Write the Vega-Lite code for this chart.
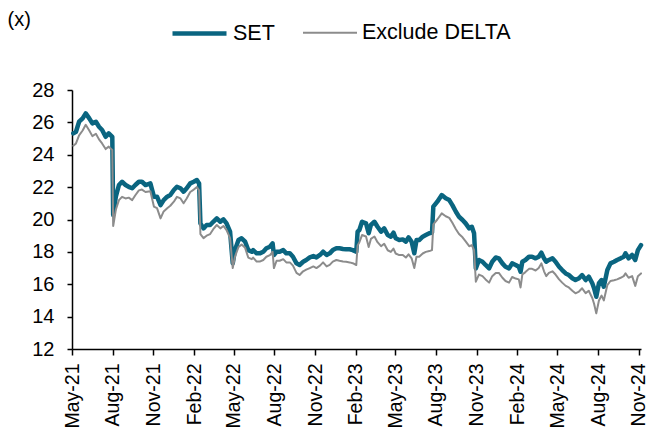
{
  "$schema": "https://vega.github.io/schema/vega-lite/v6.json",
  "width": 569,
  "height": 259,
  "autosize": "none",
  "padding": {"left": 72, "top": 90, "right": 8, "bottom": 86},
  "background": "white",
  "config": {
    "view": {"stroke": null},
    "font": "Liberation Sans",
    "axis": {"grid": false, "domainColor": "black", "domainWidth": 1.5, "tickColor": "black", "tickWidth": 1.5, "labelColor": "black", "labelFont": "Liberation Sans", "labelFontSize": 20, "titleFont": "Liberation Sans", "titleColor": "black"},
    "legend": {"labelFont": "Liberation Sans", "labelFontSize": 21.5, "labelColor": "black"}
  },
  "data": {"values": [
    {"d":"2021-05-04","SET":25.32,"Exclude DELTA":24.55},
    {"d":"2021-05-10","SET":25.42,"Exclude DELTA":24.7},
    {"d":"2021-05-17","SET":26.04,"Exclude DELTA":25.2},
    {"d":"2021-05-25","SET":26.25,"Exclude DELTA":25.5},
    {"d":"2021-06-01","SET":26.56,"Exclude DELTA":25.85},
    {"d":"2021-06-09","SET":26.25,"Exclude DELTA":25.5},
    {"d":"2021-06-16","SET":25.94,"Exclude DELTA":25.15},
    {"d":"2021-06-24","SET":26.04,"Exclude DELTA":25.3},
    {"d":"2021-07-01","SET":25.73,"Exclude DELTA":24.95},
    {"d":"2021-07-08","SET":25.53,"Exclude DELTA":24.7},
    {"d":"2021-07-16","SET":25.11,"Exclude DELTA":24.35},
    {"d":"2021-07-23","SET":25.32,"Exclude DELTA":24.5},
    {"d":"2021-07-31","SET":25.11,"Exclude DELTA":24.3},
    {"d":"2021-08-02","SET":20.28,"Exclude DELTA":19.6},
    {"d":"2021-08-08","SET":21.41,"Exclude DELTA":20.6},
    {"d":"2021-08-15","SET":22.13,"Exclude DELTA":21.2},
    {"d":"2021-08-22","SET":22.33,"Exclude DELTA":21.4},
    {"d":"2021-08-30","SET":22.13,"Exclude DELTA":21.3},
    {"d":"2021-09-06","SET":22.02,"Exclude DELTA":21.35},
    {"d":"2021-09-14","SET":21.93,"Exclude DELTA":21.2},
    {"d":"2021-09-21","SET":22.13,"Exclude DELTA":21.5},
    {"d":"2021-09-29","SET":22.33,"Exclude DELTA":21.8},
    {"d":"2021-10-06","SET":22.33,"Exclude DELTA":21.85},
    {"d":"2021-10-14","SET":22.13,"Exclude DELTA":21.7},
    {"d":"2021-10-25","SET":22.23,"Exclude DELTA":21.75},
    {"d":"2021-11-02","SET":21.41,"Exclude DELTA":20.8},
    {"d":"2021-11-09","SET":21.41,"Exclude DELTA":20.7},
    {"d":"2021-11-17","SET":20.89,"Exclude DELTA":20.07},
    {"d":"2021-11-24","SET":21.2,"Exclude DELTA":20.5},
    {"d":"2021-12-02","SET":21.41,"Exclude DELTA":20.7},
    {"d":"2021-12-09","SET":21.51,"Exclude DELTA":20.85},
    {"d":"2021-12-17","SET":21.82,"Exclude DELTA":21.1},
    {"d":"2021-12-24","SET":22.02,"Exclude DELTA":21.4},
    {"d":"2022-01-01","SET":21.93,"Exclude DELTA":21.3},
    {"d":"2022-01-08","SET":21.72,"Exclude DELTA":21.0},
    {"d":"2022-01-15","SET":21.93,"Exclude DELTA":21.3},
    {"d":"2022-01-23","SET":22.23,"Exclude DELTA":21.7},
    {"d":"2022-01-31","SET":22.33,"Exclude DELTA":21.85},
    {"d":"2022-02-07","SET":22.44,"Exclude DELTA":22.0},
    {"d":"2022-02-12","SET":22.23,"Exclude DELTA":21.8},
    {"d":"2022-02-15","SET":19.76,"Exclude DELTA":19.1},
    {"d":"2022-02-22","SET":19.45,"Exclude DELTA":18.85},
    {"d":"2022-03-01","SET":19.66,"Exclude DELTA":19.0},
    {"d":"2022-03-09","SET":19.66,"Exclude DELTA":19.1},
    {"d":"2022-03-16","SET":19.86,"Exclude DELTA":19.4},
    {"d":"2022-03-24","SET":20.07,"Exclude DELTA":19.66},
    {"d":"2022-04-01","SET":19.86,"Exclude DELTA":19.45},
    {"d":"2022-04-08","SET":20.01,"Exclude DELTA":19.6},
    {"d":"2022-04-15","SET":19.76,"Exclude DELTA":19.35},
    {"d":"2022-04-23","SET":19.25,"Exclude DELTA":18.85},
    {"d":"2022-04-29","SET":17.29,"Exclude DELTA":17.0},
    {"d":"2022-05-04","SET":18.11,"Exclude DELTA":17.7},
    {"d":"2022-05-12","SET":18.73,"Exclude DELTA":18.3},
    {"d":"2022-05-19","SET":18.84,"Exclude DELTA":18.45},
    {"d":"2022-05-27","SET":18.63,"Exclude DELTA":18.25},
    {"d":"2022-06-03","SET":18.11,"Exclude DELTA":17.65},
    {"d":"2022-06-11","SET":18.01,"Exclude DELTA":17.55},
    {"d":"2022-06-14","SET":18.11,"Exclude DELTA":17.65},
    {"d":"2022-06-22","SET":17.91,"Exclude DELTA":17.4},
    {"d":"2022-06-29","SET":17.91,"Exclude DELTA":17.4},
    {"d":"2022-07-07","SET":18.01,"Exclude DELTA":17.5},
    {"d":"2022-07-14","SET":18.22,"Exclude DELTA":17.7},
    {"d":"2022-07-22","SET":18.32,"Exclude DELTA":17.8},
    {"d":"2022-07-28","SET":18.53,"Exclude DELTA":18.0},
    {"d":"2022-07-31","SET":17.81,"Exclude DELTA":17.0},
    {"d":"2022-08-06","SET":18.01,"Exclude DELTA":17.45},
    {"d":"2022-08-13","SET":18.01,"Exclude DELTA":17.45},
    {"d":"2022-08-21","SET":18.11,"Exclude DELTA":17.55},
    {"d":"2022-08-28","SET":17.91,"Exclude DELTA":17.35},
    {"d":"2022-09-05","SET":17.91,"Exclude DELTA":17.35},
    {"d":"2022-09-12","SET":17.7,"Exclude DELTA":17.15},
    {"d":"2022-09-20","SET":17.29,"Exclude DELTA":16.7},
    {"d":"2022-09-27","SET":17.19,"Exclude DELTA":16.57},
    {"d":"2022-10-05","SET":17.39,"Exclude DELTA":16.8},
    {"d":"2022-10-12","SET":17.5,"Exclude DELTA":16.9},
    {"d":"2022-10-20","SET":17.66,"Exclude DELTA":17.0},
    {"d":"2022-10-28","SET":17.74,"Exclude DELTA":17.1},
    {"d":"2022-11-04","SET":17.66,"Exclude DELTA":17.0},
    {"d":"2022-11-12","SET":17.81,"Exclude DELTA":17.15},
    {"d":"2022-11-19","SET":18.01,"Exclude DELTA":17.35},
    {"d":"2022-11-27","SET":17.81,"Exclude DELTA":17.1},
    {"d":"2022-12-04","SET":17.91,"Exclude DELTA":17.2},
    {"d":"2022-12-11","SET":18.11,"Exclude DELTA":17.4},
    {"d":"2022-12-19","SET":18.22,"Exclude DELTA":17.5},
    {"d":"2022-12-26","SET":18.22,"Exclude DELTA":17.45},
    {"d":"2023-01-03","SET":18.18,"Exclude DELTA":17.4},
    {"d":"2023-01-10","SET":18.16,"Exclude DELTA":17.39},
    {"d":"2023-01-18","SET":18.16,"Exclude DELTA":17.35},
    {"d":"2023-01-25","SET":18.11,"Exclude DELTA":17.3},
    {"d":"2023-02-02","SET":18.01,"Exclude DELTA":17.19},
    {"d":"2023-02-05","SET":19.25,"Exclude DELTA":18.4},
    {"d":"2023-02-09","SET":19.35,"Exclude DELTA":18.6},
    {"d":"2023-02-15","SET":19.86,"Exclude DELTA":19.04},
    {"d":"2023-02-24","SET":19.76,"Exclude DELTA":18.95},
    {"d":"2023-03-02","SET":19.15,"Exclude DELTA":18.3},
    {"d":"2023-03-07","SET":19.66,"Exclude DELTA":18.8},
    {"d":"2023-03-15","SET":19.86,"Exclude DELTA":18.95},
    {"d":"2023-03-22","SET":19.55,"Exclude DELTA":18.6},
    {"d":"2023-03-30","SET":19.25,"Exclude DELTA":18.35},
    {"d":"2023-04-06","SET":19.45,"Exclude DELTA":18.5},
    {"d":"2023-04-14","SET":19.04,"Exclude DELTA":18.1},
    {"d":"2023-04-21","SET":18.94,"Exclude DELTA":18.0},
    {"d":"2023-04-27","SET":19.19,"Exclude DELTA":18.2},
    {"d":"2023-05-02","SET":18.84,"Exclude DELTA":17.9},
    {"d":"2023-05-10","SET":18.73,"Exclude DELTA":17.8},
    {"d":"2023-05-18","SET":18.77,"Exclude DELTA":17.81},
    {"d":"2023-05-25","SET":18.63,"Exclude DELTA":17.65},
    {"d":"2023-05-31","SET":18.9,"Exclude DELTA":17.85},
    {"d":"2023-06-07","SET":18.63,"Exclude DELTA":17.6},
    {"d":"2023-06-13","SET":17.91,"Exclude DELTA":17.0},
    {"d":"2023-06-18","SET":18.73,"Exclude DELTA":17.7},
    {"d":"2023-06-24","SET":18.73,"Exclude DELTA":17.7},
    {"d":"2023-07-02","SET":18.94,"Exclude DELTA":17.9},
    {"d":"2023-07-09","SET":19.04,"Exclude DELTA":18.0},
    {"d":"2023-07-17","SET":19.15,"Exclude DELTA":18.05},
    {"d":"2023-07-23","SET":19.19,"Exclude DELTA":18.11},
    {"d":"2023-07-26","SET":20.79,"Exclude DELTA":19.7},
    {"d":"2023-08-04","SET":21.1,"Exclude DELTA":20.0},
    {"d":"2023-08-14","SET":21.51,"Exclude DELTA":20.38},
    {"d":"2023-08-23","SET":21.31,"Exclude DELTA":20.2},
    {"d":"2023-08-31","SET":21.2,"Exclude DELTA":20.1},
    {"d":"2023-09-07","SET":20.89,"Exclude DELTA":19.8},
    {"d":"2023-09-15","SET":20.48,"Exclude DELTA":19.4},
    {"d":"2023-09-22","SET":20.17,"Exclude DELTA":19.1},
    {"d":"2023-09-30","SET":19.97,"Exclude DELTA":18.9},
    {"d":"2023-10-07","SET":19.76,"Exclude DELTA":18.65},
    {"d":"2023-10-15","SET":19.45,"Exclude DELTA":18.35},
    {"d":"2023-10-21","SET":19.55,"Exclude DELTA":18.42},
    {"d":"2023-10-26","SET":19.15,"Exclude DELTA":18.1},
    {"d":"2023-10-30","SET":16.98,"Exclude DELTA":16.16},
    {"d":"2023-11-06","SET":17.5,"Exclude DELTA":16.6},
    {"d":"2023-11-14","SET":17.39,"Exclude DELTA":16.5},
    {"d":"2023-11-21","SET":17.19,"Exclude DELTA":16.3},
    {"d":"2023-11-29","SET":16.98,"Exclude DELTA":16.1},
    {"d":"2023-12-06","SET":17.39,"Exclude DELTA":16.5},
    {"d":"2023-12-14","SET":17.65,"Exclude DELTA":16.7},
    {"d":"2023-12-21","SET":17.6,"Exclude DELTA":16.7},
    {"d":"2023-12-29","SET":17.29,"Exclude DELTA":16.4},
    {"d":"2024-01-05","SET":17.08,"Exclude DELTA":16.2},
    {"d":"2024-01-13","SET":16.98,"Exclude DELTA":16.1},
    {"d":"2024-01-20","SET":17.29,"Exclude DELTA":16.45},
    {"d":"2024-01-28","SET":17.19,"Exclude DELTA":16.35},
    {"d":"2024-02-04","SET":17.08,"Exclude DELTA":16.3},
    {"d":"2024-02-08","SET":16.77,"Exclude DELTA":15.8},
    {"d":"2024-02-12","SET":17.39,"Exclude DELTA":16.6},
    {"d":"2024-02-19","SET":17.5,"Exclude DELTA":16.75},
    {"d":"2024-02-27","SET":17.7,"Exclude DELTA":16.95},
    {"d":"2024-03-05","SET":17.7,"Exclude DELTA":16.95},
    {"d":"2024-03-13","SET":17.6,"Exclude DELTA":16.85},
    {"d":"2024-03-20","SET":17.7,"Exclude DELTA":17.0},
    {"d":"2024-03-26","SET":17.95,"Exclude DELTA":17.29},
    {"d":"2024-04-01","SET":17.6,"Exclude DELTA":16.8},
    {"d":"2024-04-06","SET":17.39,"Exclude DELTA":16.5},
    {"d":"2024-04-12","SET":17.5,"Exclude DELTA":16.7},
    {"d":"2024-04-20","SET":17.6,"Exclude DELTA":16.8},
    {"d":"2024-04-27","SET":17.39,"Exclude DELTA":16.6},
    {"d":"2024-05-05","SET":17.08,"Exclude DELTA":16.3},
    {"d":"2024-05-12","SET":16.88,"Exclude DELTA":16.1},
    {"d":"2024-05-20","SET":16.67,"Exclude DELTA":15.9},
    {"d":"2024-05-27","SET":16.57,"Exclude DELTA":15.8},
    {"d":"2024-06-04","SET":16.37,"Exclude DELTA":15.6},
    {"d":"2024-06-11","SET":16.26,"Exclude DELTA":15.44},
    {"d":"2024-06-19","SET":16.37,"Exclude DELTA":15.55},
    {"d":"2024-06-26","SET":16.57,"Exclude DELTA":15.75},
    {"d":"2024-07-04","SET":16.26,"Exclude DELTA":15.45},
    {"d":"2024-07-11","SET":16.47,"Exclude DELTA":15.6},
    {"d":"2024-07-19","SET":16.06,"Exclude DELTA":15.15},
    {"d":"2024-07-23","SET":15.75,"Exclude DELTA":14.8},
    {"d":"2024-07-28","SET":15.23,"Exclude DELTA":14.2},
    {"d":"2024-08-03","SET":16.06,"Exclude DELTA":15.0},
    {"d":"2024-08-09","SET":16.26,"Exclude DELTA":15.3},
    {"d":"2024-08-14","SET":15.85,"Exclude DELTA":15.0},
    {"d":"2024-08-22","SET":16.88,"Exclude DELTA":15.95},
    {"d":"2024-08-29","SET":17.29,"Exclude DELTA":16.2},
    {"d":"2024-09-06","SET":17.39,"Exclude DELTA":16.25},
    {"d":"2024-09-13","SET":17.5,"Exclude DELTA":16.3},
    {"d":"2024-09-21","SET":17.6,"Exclude DELTA":16.4},
    {"d":"2024-09-28","SET":17.7,"Exclude DELTA":16.5},
    {"d":"2024-10-02","SET":17.91,"Exclude DELTA":16.67},
    {"d":"2024-10-09","SET":17.6,"Exclude DELTA":16.4},
    {"d":"2024-10-17","SET":17.81,"Exclude DELTA":16.5},
    {"d":"2024-10-24","SET":17.5,"Exclude DELTA":15.9},
    {"d":"2024-10-30","SET":18.11,"Exclude DELTA":16.5},
    {"d":"2024-11-06","SET":18.42,"Exclude DELTA":16.67}
  ]},
  "transform": [{"fold": ["SET", "Exclude DELTA"], "as": ["series", "pe"]}],
  "mark": {"type": "line", "strokeJoin": "round", "strokeCap": "round"},
  "encoding": {
    "x": {
      "field": "d", "type": "temporal",
      "scale": {"type": "utc", "domain": [{"year": 2021, "month": 5, "date": 1, "utc": true}, {"year": 2024, "month": 11, "date": 6, "utc": true}]},
      "axis": {
        "title": null, "format": "%b-%y", "labelAngle": -90, "tickSize": 6, "labelPadding": 8, "labelFontSize": 19.5,
        "values": [
          {"year": 2021, "month": 5, "date": 1, "utc": true},
          {"year": 2021, "month": 8, "date": 1, "utc": true},
          {"year": 2021, "month": 11, "date": 1, "utc": true},
          {"year": 2022, "month": 2, "date": 1, "utc": true},
          {"year": 2022, "month": 5, "date": 1, "utc": true},
          {"year": 2022, "month": 8, "date": 1, "utc": true},
          {"year": 2022, "month": 11, "date": 1, "utc": true},
          {"year": 2023, "month": 2, "date": 1, "utc": true},
          {"year": 2023, "month": 5, "date": 1, "utc": true},
          {"year": 2023, "month": 8, "date": 1, "utc": true},
          {"year": 2023, "month": 11, "date": 1, "utc": true},
          {"year": 2024, "month": 2, "date": 1, "utc": true},
          {"year": 2024, "month": 5, "date": 1, "utc": true},
          {"year": 2024, "month": 8, "date": 1, "utc": true},
          {"year": 2024, "month": 11, "date": 1, "utc": true}
        ]
      }
    },
    "y": {
      "field": "pe", "type": "quantitative",
      "scale": {"domain": [12, 28], "nice": false, "zero": false},
      "axis": {
        "values": [12, 14, 16, 18, 20, 22, 24, 26, 28], "tickSize": 5, "labelPadding": 13,
        "title": "(x)", "titleAngle": 0, "titleX": -65, "titleY": -71, "titleAlign": "left", "titleBaseline": "middle", "titleFontSize": 20, "titleFontWeight": "normal"
      }
    },
    "color": {
      "field": "series", "type": "nominal",
      "scale": {"domain": ["SET", "Exclude DELTA"], "range": ["#0a6580", "#8c8c8c"]},
      "legend": {"orient": "none", "legendX": 98, "legendY": -86, "direction": "horizontal", "title": null, "symbolType": "stroke", "symbolSize": 2916, "columnPadding": 24, "labelOffset": 4}
    },
    "strokeWidth": {
      "field": "series", "type": "nominal",
      "scale": {"domain": ["SET", "Exclude DELTA"], "range": [4.5, 2]},
      "legend": {"orient": "none", "legendX": 98, "legendY": -86, "direction": "horizontal", "title": null, "symbolType": "stroke", "symbolSize": 2916, "columnPadding": 24, "labelOffset": 4}
    }
  }
}
